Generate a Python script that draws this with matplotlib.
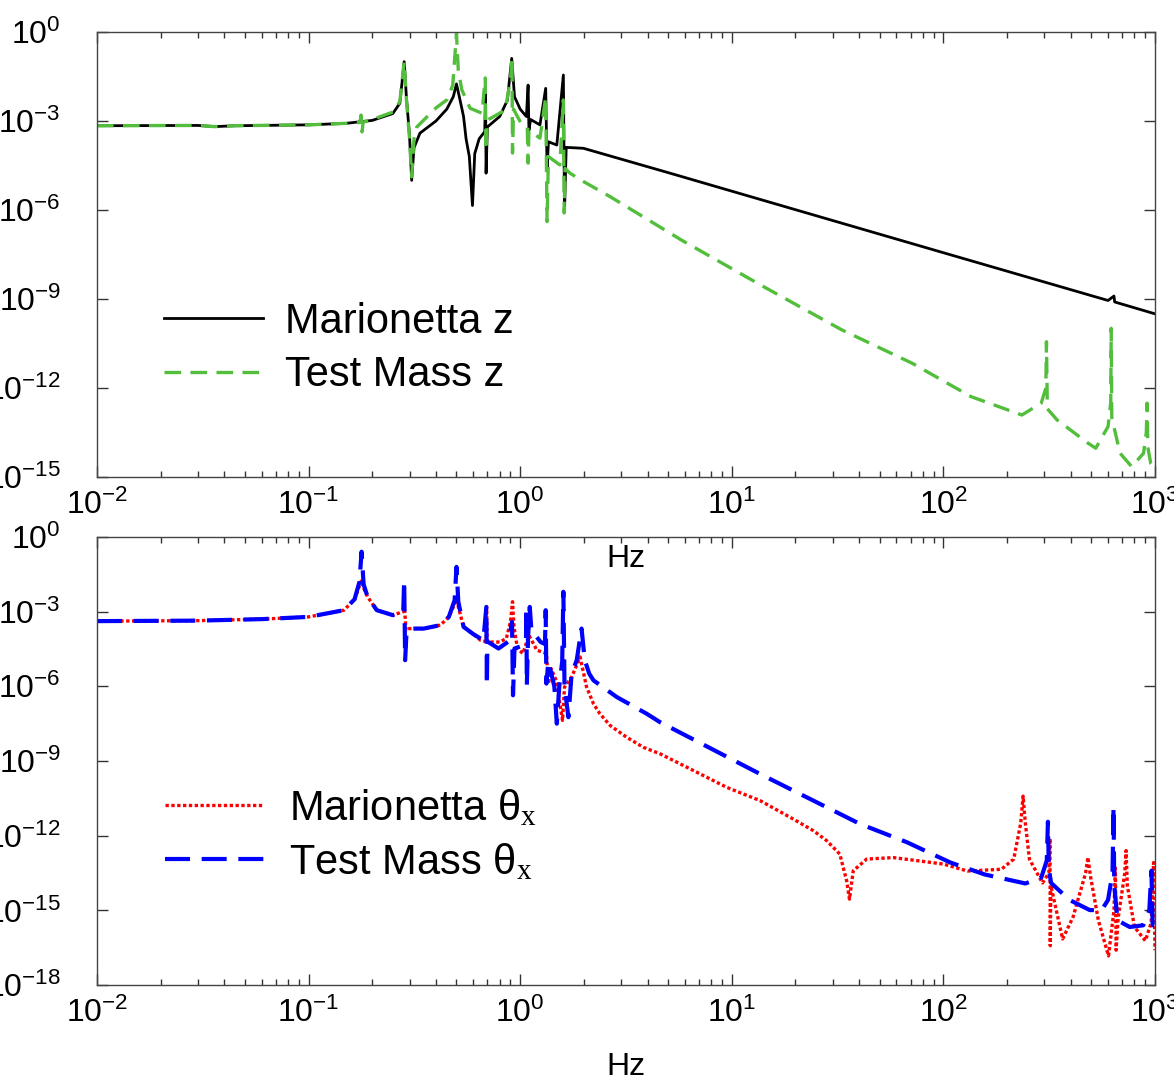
import numpy as np
import matplotlib
matplotlib.use('Agg')
from matplotlib import pyplot as plt
from matplotlib.ticker import NullLocator

plt.rcParams['font.family'] = ['Liberation Sans', 'DejaVu Sans']
plt.rcParams['mathtext.fontset'] = 'custom'
plt.rcParams['mathtext.rm'] = 'Liberation Serif'
plt.rcParams['mathtext.it'] = 'Liberation Serif:italic'

# top panel: Marionetta z (black) and Test Mass z (green), log10 of magnitude
mar_z_f = [0.01, 0.03, 0.036, 0.045, 0.1, 0.15, 0.2, 0.25, 0.27, 0.283, 0.29, 0.3, 0.307, 0.315,
           0.336, 0.4, 0.45, 0.483, 0.5, 0.52, 0.54, 0.555, 0.575, 0.595, 0.61, 0.64, 0.68, 0.686,
           0.69, 0.70, 0.8, 0.87, 0.912, 0.94, 1.0, 1.07, 1.09, 1.10, 1.12, 1.24, 1.32, 1.34, 1.36,
           1.49, 1.60, 1.62, 1.65, 1.99, 5, 20, 100, 600, 640, 645, 1000]
mar_z_log = [-3.16, -3.15, -3.19, -3.16, -3.13, -3.08, -2.98, -2.75, -2.4, -1.0, -2.2, -3.5, -5.0, -3.9,
             -3.41, -3.0, -2.6, -2.18, -1.75, -2.3, -2.85, -3.6, -4.2, -5.85, -4.1, -3.6, -3.36, -2.06,
             -4.76, -3.2, -2.85, -2.3, -0.89, -2.18, -2.6, -2.85, -1.79, -3.3, -2.95, -3.13, -1.9, -4.6, -3.7,
             -3.81, -1.45, -6.05, -3.89, -3.92, -4.74, -5.99, -7.44, -9.05, -8.9, -9.1, -9.5]

tm_z_f = [0.01, 0.03, 0.036, 0.045, 0.1, 0.15, 0.175, 0.177, 0.179, 0.181, 0.2, 0.25, 0.27, 0.283,
          0.29, 0.3, 0.307, 0.315, 0.325, 0.35, 0.4, 0.45, 0.48, 0.5, 0.51, 0.53, 0.58, 0.66, 0.684,
          0.688, 0.7, 0.85, 0.9, 0.915, 0.92, 0.93, 1.01, 1.08, 1.09, 1.1, 1.24, 1.32, 1.34, 1.36,
          1.54, 1.60, 1.615, 1.63, 1.72, 1.99, 2.66, 5.77, 14.1, 33.1, 71.4, 135, 235, 290, 305,
          307, 310, 345, 483, 525, 600, 618, 621, 625, 684, 776, 883, 910, 918, 925, 955, 1000]
tm_z_log = [-3.16, -3.15, -3.19, -3.16, -3.13, -3.08, -3.05, -2.8, -3.37, -3.04, -2.95, -2.7, -2.35, -1.0,
            -2.3, -3.6, -4.88, -3.6, -3.2, -2.97, -2.56, -2.29, -1.8, -0.05, -1.3, -1.95, -2.57, -2.74, -1.55,
            -3.98, -2.97, -2.63, -1.6, -0.89, -4.08, -2.6, -3.08, -3.2, -4.42, -3.3, -3.58, -2.2, -6.39, -4.2,
            -4.48, -2.29, -6.1, -4.6, -4.76, -5.04, -5.55, -7.01, -8.58, -10.04, -11.17, -12.29, -12.91, -12.51, -12.0,
            -10.44, -12.7, -13.08, -13.86, -14.03, -13.3, -12.5, -9.99, -13.0, -14.2, -14.65, -14.2, -13.5, -12.51, -14.0, -14.54, -14.7]

# bottom panel: Marionetta theta_x (red) and Test Mass theta_x (blue)
mar_t_f = [0.01, 0.03, 0.06, 0.1, 0.147, 0.165, 0.175, 0.178, 0.181, 0.19, 0.21, 0.25, 0.28, 0.284,
           0.289, 0.295, 0.35, 0.42, 0.46, 0.49, 0.5, 0.51, 0.54, 0.6, 0.65, 0.69, 0.694, 0.698, 0.8,
           0.86, 0.9, 0.92, 0.935, 0.97, 1.03, 1.1, 1.2, 1.33, 1.36, 1.4, 1.48, 1.585, 1.62, 1.75, 1.92,
           2.06, 2.22, 2.38, 2.66, 3.18, 3.82, 4.58, 6.58, 9.47, 13.6, 19.5, 24.3, 28.1, 32.4, 34.9, 36,
           37.5, 43.4, 58, 100, 130, 188, 215, 232, 238, 244, 255, 294, 315, 319, 320, 322, 366, 410,
           470, 482, 495, 540, 603, 640, 650, 655, 670, 720, 730, 740, 800, 900, 960, 985, 1000]
mar_t_log = [-3.38, -3.36, -3.3, -3.21, -2.94, -2.5, -1.9, -1.73, -2.0, -2.4, -2.94, -3.14, -3.0, -2.87,
             -3.75, -3.68, -3.68, -3.54, -3.21, -2.7, -2.5, -2.8, -3.61, -3.9, -4.15, -4.2, -2.81, -4.22, -4.22,
             -4.08, -3.4, -2.6, -3.6, -4.48, -4.68, -3.95, -4.55, -4.68, -5.9, -5.29, -5.76, -7.37, -6.03, -5.63, -4.82,
             -6.03, -6.70, -7.10, -7.57, -8.04, -8.45, -8.71, -9.38, -10.06, -10.59, -11.33, -11.8, -12.2, -12.74, -13.81, -14.55,
             -13.41, -12.94, -12.88, -13.14, -13.42, -13.35, -12.94, -11.5, -10.41, -11.5, -12.94, -13.9, -13.5, -12.12, -16.42, -14.0, -16.15, -15.27,
             -13.5, -12.87, -13.6, -15.4, -16.83, -15.0, -13.3, -16.6, -15.3, -13.5, -12.6, -14.0, -15.67, -16.22, -15.5, -13.08, -16.6]

tm_t_f = [0.01, 0.03, 0.06, 0.1, 0.147, 0.165, 0.174, 0.178, 0.182, 0.19, 0.21, 0.25, 0.28, 0.283,
          0.286, 0.29, 0.3, 0.35, 0.42, 0.46, 0.49, 0.5, 0.51, 0.54, 0.6, 0.67, 0.692, 0.696, 0.70,
          0.79, 0.88, 0.915, 0.925, 0.94, 1.0, 1.065, 1.07, 1.075, 1.09, 1.11, 1.13, 1.25, 1.31, 1.32,
          1.33, 1.36, 1.45, 1.49, 1.53, 1.58, 1.60, 1.62, 1.69, 1.75, 1.85, 1.95, 2.02, 2.12, 2.22, 2.86,
          3.96, 4.58, 13.6, 40.4, 67.1, 108, 157, 244, 290, 308, 312, 315, 323, 394, 492, 560, 600, 630,
          637, 642, 665, 760, 880, 940, 962, 975, 1000]
tm_t_log = [-3.38, -3.36, -3.3, -3.21, -2.94, -2.5, -1.8, -0.59, -1.9, -2.4, -2.94, -3.14, -3.05, -1.73,
            -4.95, -3.9, -3.68, -3.68, -3.54, -3.21, -2.54, -1.2, -2.6, -3.61, -3.9, -4.15, -2.81, -5.96, -4.2,
            -4.48, -4.2, -3.41, -6.36, -4.48, -4.4, -4.2, -2.81, -5.96, -4.0, -2.81, -3.75, -4.22, -4.3, -2.94,
            -5.89, -5.0, -6.0, -7.5, -6.0, -5.0, -2.2, -6.0, -7.24, -5.5, -4.95, -3.68, -4.95, -5.49, -5.76, -6.43,
            -7.1, -7.44, -9.52, -11.53, -12.26, -13.08, -13.56, -13.92, -13.69, -13.0, -11.44, -13.35, -13.9, -14.58, -14.99, -14.99, -14.58, -13.5,
            -10.83, -14.0, -15.4, -15.67, -15.6, -15.0, -13.41, -15.6, -15.6]

top_yticks = [1e0, 1e-3, 1e-6, 1e-9, 1e-12, 1e-15]
bot_yticks = [1e0, 1e-3, 1e-6, 1e-9, 1e-12, 1e-15, 1e-18]

GREEN = '#52be3c'


def style_axes(ax, yticks):
    ax.set_xscale('log')
    ax.set_yscale('log')
    ax.set_xlim(1e-2, 1e3)
    ax.set_ylim(yticks[-1], yticks[0])
    ax.set_yticks(yticks)
    ax.yaxis.set_minor_locator(NullLocator())
    ax.tick_params(which='both', direction='in', top=True, right=True, colors='#333333',
                   labelcolor='black', labelsize=23)
    ax.tick_params(axis='y', which='major', length=8, width=1, pad=26)
    ax.tick_params(axis='x', which='major', length=8, width=1, pad=9)
    ax.tick_params(axis='x', which='minor', length=4, width=1)
    for s in ax.spines.values():
        s.set_color('#444444')
        s.set_linewidth(1)
    ax.set_xlabel('Hz', fontsize=23)
    ax.xaxis.set_label_coords(0.5, -0.15)


def main():
    fig = plt.figure(figsize=(11.74, 10.77), dpi=100)
    ax1 = fig.add_axes([0.0826, 0.5571, 0.9012, 0.4132])
    ax2 = fig.add_axes([0.0826, 0.0854, 0.9012, 0.4160])
    ax2.set_facecolor('none')

    ax1.plot(mar_z_f, 10.0 ** np.array(mar_z_log), color='black', lw=2.0, label='Marionetta z')
    ax1.plot(tm_z_f, 10.0 ** np.array(tm_z_log), color=GREEN, lw=2.4, dashes=(5, 2.8),
             label='Test Mass z')
    style_axes(ax1, top_yticks)
    ax1.legend(loc='upper left', bbox_to_anchor=(0.0435, 0.44), frameon=False, fontsize=30,
               borderpad=0, handlelength=2.37, handletextpad=0.55, labelspacing=0.32)

    ax2.plot(mar_t_f, 10.0 ** np.array(mar_t_log), color='red', lw=2.4, dashes=(1, 0.75),
             label=r'Marionetta θ$_{\mathrm{x}}$')
    ax2.plot(tm_t_f, 10.0 ** np.array(tm_t_log), color='blue', lw=3.0, dashes=(6, 2.8),
             label=r'Test Mass θ$_{\mathrm{x}}$')
    style_axes(ax2, bot_yticks)
    ax2.legend(loc='upper left', bbox_to_anchor=(0.045, 0.486), frameon=False, fontsize=30,
               borderpad=0, handlelength=2.37, handletextpad=0.6, labelspacing=0.32)

    fig.savefig('out.png', dpi=100)


if __name__ == '__main__':
    main()
